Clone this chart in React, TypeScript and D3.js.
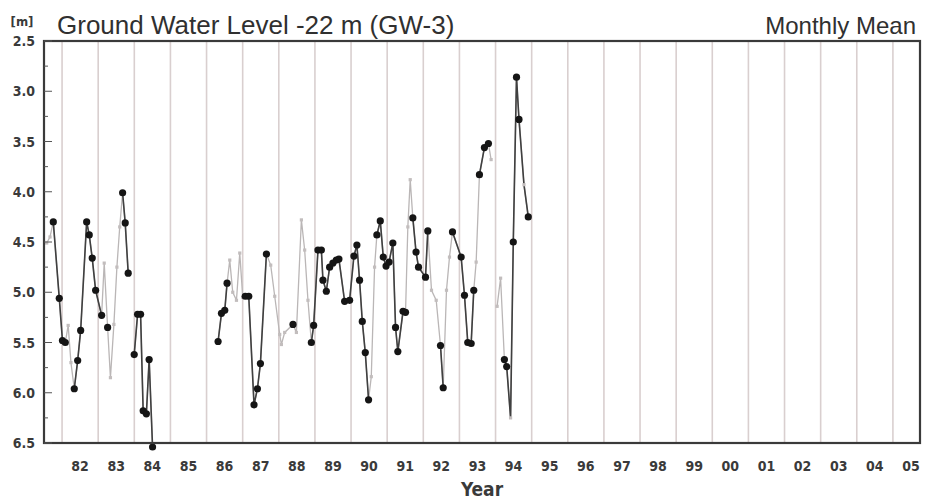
import React from 'react';
import * as d3 from 'd3';

// ---- data: [decimal year, level (m below ground), kind] ----
// kind 1 = measured monthly mean (black dot), 0 = light grey estimate, 2 = grey point on dark line
const seg1982: [number, number, number][] = [
  [1981.575, 4.51, 0], [1981.666, 4.45, 0], [1981.757, 4.30, 1], [1981.923, 5.06, 1],
  [1982.011, 5.48, 1], [1982.089, 5.50, 1], [1982.169, 5.33, 0], [1982.246, 5.70, 0],
  [1982.338, 5.96, 1], [1982.432, 5.68, 1], [1982.515, 5.38, 1], [1982.681, 4.30, 1],
  [1982.752, 4.43, 1], [1982.835, 4.66, 1], [1982.929, 4.98, 1], [1983.095, 5.23, 1],
  [1983.167, 4.71, 0], [1983.261, 5.35, 1], [1983.339, 5.85, 0], [1983.435, 5.32, 0],
  [1983.518, 4.75, 0], [1983.596, 4.35, 0], [1983.676, 4.01, 1], [1983.748, 4.31, 1],
  [1983.831, 4.81, 1],
];
const seg1984: [number, number, number][] = [
  [1983.997, 5.62, 1], [1984.091, 5.22, 1], [1984.174, 5.22, 1], [1984.245, 6.18, 1],
  [1984.334, 6.21, 1], [1984.411, 5.67, 1], [1984.505, 6.54, 1],
];
const seg1986: [number, number, number][] = [
  [1986.319, 5.49, 1], [1986.413, 5.21, 1], [1986.504, 5.18, 1], [1986.568, 4.91, 1],
  [1986.642, 4.68, 0], [1986.725, 5.00, 0], [1986.828, 5.08, 0], [1986.919, 4.61, 0],
  [1987.002, 5.05, 0], [1987.071, 5.04, 1], [1987.168, 5.04, 1], [1987.314, 6.12, 1],
  [1987.408, 5.96, 1], [1987.491, 5.71, 1], [1987.657, 4.62, 1], [1987.776, 4.73, 0],
  [1987.887, 5.04, 0], [1988.025, 5.42, 0], [1988.072, 5.52, 0], [1988.163, 5.40, 0],
  [1988.393, 5.32, 1], [1988.487, 5.40, 0], [1988.625, 4.28, 0], [1988.716, 4.58, 0],
  [1988.807, 5.08, 0], [1988.901, 5.50, 1], [1988.965, 5.33, 1], [1989.084, 4.58, 1],
  [1989.178, 4.58, 1], [1989.222, 4.88, 1], [1989.316, 4.99, 1], [1989.407, 4.75, 1],
  [1989.498, 4.71, 1], [1989.592, 4.68, 1], [1989.664, 4.67, 1], [1989.822, 5.09, 1],
  [1989.960, 5.08, 1], [1990.079, 4.64, 1], [1990.162, 4.53, 1], [1990.236, 4.88, 1],
  [1990.311, 5.29, 1], [1990.394, 5.60, 1], [1990.485, 6.07, 1], [1990.560, 5.84, 0],
  [1990.651, 4.75, 0], [1990.715, 4.43, 1], [1990.809, 4.29, 1], [1990.892, 4.65, 1],
  [1990.969, 4.74, 1], [1991.052, 4.70, 1], [1991.157, 4.51, 1], [1991.232, 5.35, 1],
  [1991.295, 5.59, 1], [1991.439, 5.19, 1], [1991.508, 5.20, 1], [1991.572, 4.35, 0],
  [1991.638, 3.88, 0], [1991.710, 4.26, 1], [1991.799, 4.60, 1], [1991.868, 4.75, 1],
  [1992.061, 4.85, 1], [1992.125, 4.39, 1], [1992.227, 4.98, 0], [1992.357, 5.08, 0],
  [1992.476, 5.53, 1], [1992.551, 5.95, 1], [1992.642, 4.98, 0], [1992.725, 4.65, 0],
  [1992.808, 4.40, 1], [1993.048, 4.65, 1], [1993.140, 5.03, 1], [1993.231, 5.50, 1],
  [1993.325, 5.51, 1], [1993.397, 4.98, 1], [1993.463, 4.70, 0], [1993.554, 3.83, 1],
  [1993.692, 3.56, 1], [1993.803, 3.52, 1], [1993.877, 3.68, 0],
];
const seg1994: [number, number, number][] = [
  [1994.043, 5.14, 0], [1994.140, 4.86, 0], [1994.245, 5.67, 1], [1994.309, 5.74, 1],
  [1994.416, 6.25, 2], [1994.491, 4.50, 1], [1994.580, 2.86, 1], [1994.649, 3.28, 1],
  [1994.787, 3.93, 2], [1994.906, 4.25, 1],
];
const segments = [seg1982, seg1984, seg1986, seg1994];

const yTickValues = [2.5, 3.0, 3.5, 4.0, 4.5, 5.0, 5.5, 6.0, 6.5];
const yTickLabels = ['2.5', '3.0', '3.5', '4.0', '4.5', '5.0', '5.5', '6.0', '6.5'];
const yearStarts = d3.range(1982, 2006);
const yearLabels = ['82', '83', '84', '85', '86', '87', '88', '89', '90', '91', '92', '93', '94',
  '95', '96', '97', '98', '99', '00', '01', '02', '03', '04', '05'];

const titleText = 'Ground Water Level -22 m (GW-3)';
const subtitleText = 'Monthly Mean';

const W = 926, H = 503;
const L = 44, T = 41, R = 920, B = 443;

export default function App() {
  const x = d3.scaleLinear().domain([1981.5, 2005.75]).range([L, R]);
  const y = d3.scaleLinear().domain([2.5, 6.5]).range([T, B]);
  const minor = d3.range(2.5, 6.51, 0.25);

  const lineAll = d3.line<[number, number, number]>().x(d => x(d[0])).y(d => y(d[1]));
  const lineDark = d3.line<[number, number, number]>()
    .defined(d => d[2] >= 1)
    .x(d => x(d[0])).y(d => y(d[1]));

  const narrow = "'Liberation Sans Narrow', 'DejaVu Sans Condensed', 'Arial Narrow', sans-serif";
  const sans = "'Liberation Sans', Arial, Helvetica, sans-serif";

  return (
    <svg width={W} height={H} style={{ position: 'absolute', left: 0, top: 0, background: '#fff' }}>
      <rect x={0} y={0} width={W} height={H} fill="#fff" />
      {/* year grid */}
      {yearStarts.map(yr => (
        <line key={yr} x1={x(yr)} x2={x(yr)} y1={T} y2={B} stroke="#d9cfcf" strokeWidth={1.6} />
      ))}
      {/* light lines */}
      {segments.map((s, i) => (
        <path key={'g' + i} d={lineAll(s) || ''} fill="none" stroke="#bab6b6" strokeWidth={1.3} />
      ))}
      {/* dark lines */}
      {segments.map((s, i) => (
        <path key={'d' + i} d={lineDark(s) || ''} fill="none" stroke="#404040" strokeWidth={1.6} />
      ))}
      {/* grey markers */}
      {segments.flat().filter(d => d[2] !== 1).map((d, i) => (
        <rect key={'m' + i} x={x(d[0]) - 1.6} y={y(d[1]) - 1.6} width={3.2} height={3.2} fill="#c2bdbd" />
      ))}
      {/* black dots */}
      {segments.flat().filter(d => d[2] === 1).map((d, i) => (
        <circle key={'c' + i} cx={x(d[0])} cy={y(d[1])} r={3.6} fill="#151515" />
      ))}
      {/* frame */}
      <rect x={L} y={T} width={R - L} height={B - T} fill="none" stroke="#3a3a3a" strokeWidth={2.2} />
      {/* y ticks */}
      {minor.map((v, i) => (
        <line key={'t' + i} x1={L} x2={L + (i % 2 === 0 ? 8 : 4)} y1={y(v)} y2={y(v)} stroke="#555" strokeWidth={1} />
      ))}
      {yTickValues.map((v, i) => (
        <text key={'yl' + i} x={35} y={y(v)} dy="0.36em" textAnchor="end" fontFamily={narrow}
          fontWeight="bold" fontSize={14} fill="#3a3a3a">{yTickLabels[i]}</text>
      ))}
      <text x={22} y={26} textAnchor="middle" fontFamily={narrow} fontWeight="bold" fontSize={13} fill="#3a3a3a">[m]</text>
      {/* x labels */}
      {yearStarts.map((yr, i) => (
        <text key={'xl' + i} x={x(yr + 0.5)} y={471} textAnchor="middle" fontFamily={narrow}
          fontWeight="bold" fontSize={14} fill="#3a3a3a">{yearLabels[i]}</text>
      ))}
      <text x={(L + R) / 2} y={496} textAnchor="middle" fontFamily={narrow} fontWeight="bold" fontSize={19} fill="#3a3a3a">Year</text>
      {/* titles */}
      <text x={57} y={34} fontFamily={sans} fontSize={26} fill="#303030">{titleText}</text>
      <text x={916} y={34} textAnchor="end" fontFamily={sans} fontSize={24} fill="#303030">{subtitleText}</text>
    </svg>
  );
}
